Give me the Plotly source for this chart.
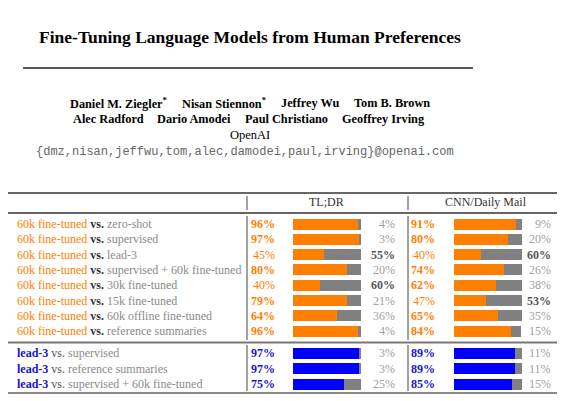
import plotly.graph_objects as go

# ---------------- data ----------------
title_text = "Fine-Tuning Language Models from Human Preferences"
authors_line1 = ["Daniel M. Ziegler<sup>*</sup>", "Nisan Stiennon<sup>*</sup>", "Jeffrey Wu", "Tom B. Brown"]
authors_line2 = ["Alec Radford", "Dario Amodei", "Paul Christiano", "Geoffrey Irving"]
affiliation = "OpenAI"
emails = "{dmz,nisan,jeffwu,tom,alec,damodei,paul,irving}@openai.com"

datasets = ["TL;DR", "CNN/Daily Mail"]

model_a = "60k fine-tuned"
opponents_a = ["zero-shot", "supervised", "lead-3", "supervised + 60k fine-tuned",
               "30k fine-tuned", "15k fine-tuned", "60k offline fine-tuned", "reference summaries"]
tldr_a = [96, 97, 45, 80, 40, 79, 64, 96]
tldr_a_opp = [4, 3, 55, 20, 60, 21, 36, 4]
cnn_a = [91, 80, 40, 74, 62, 47, 65, 84]
cnn_a_opp = [9, 20, 60, 26, 38, 53, 35, 15]

model_b = "lead-3"
opponents_b = ["supervised", "reference summaries", "supervised + 60k fine-tuned"]
tldr_b = [97, 97, 75]
tldr_b_opp = [3, 3, 25]
cnn_b = [89, 89, 85]
cnn_b_opp = [11, 11, 15]

# ---------------- styling / layout ----------------
W, H = 567, 401
SERIF = "Liberation Serif, Times New Roman, serif"
MONO = "Liberation Mono, Courier New, monospace"
ORANGE = "#ff8000"
BLUE = "#0000ff"
BLUE_TXT = "#1414d2"
GRAY_BAR = "#808080"
GRAY_TXT = "#8a8a8a"
GRAY_PCT = "#a0a0a0"
DARK_PCT = "#555555"

row_y_a = [224 + 15.3 * i for i in range(len(opponents_a))]
row_y_b = [353 + 15.5 * i for i in range(len(opponents_b))]

fig = go.Figure()

def add_bars(values, opp, ys, xaxis, color):
    fig.add_trace(go.Bar(x=values, y=ys, base=[0] * len(values), orientation="h",
                         marker=dict(color=color, line=dict(width=0)), width=11,
                         xaxis=xaxis, yaxis="y", showlegend=False, hoverinfo="skip"))
    fig.add_trace(go.Bar(x=opp, y=ys, base=values, orientation="h",
                         marker=dict(color=GRAY_BAR, line=dict(width=0)), width=11,
                         xaxis=xaxis, yaxis="y", showlegend=False, hoverinfo="skip"))

add_bars(tldr_a, tldr_a_opp, row_y_a, "x2", ORANGE)
add_bars(tldr_b, tldr_b_opp, row_y_b, "x2", BLUE)
add_bars(cnn_a, cnn_a_opp, row_y_a, "x3", ORANGE)
add_bars(cnn_b, cnn_b_opp, row_y_b, "x3", BLUE)

ann = []

def text(x, y, s, size=12, color="black", xanchor="left", family=SERIF):
    ann.append(dict(x=x, y=y, xref="x", yref="y", text=s, showarrow=False,
                    xanchor=xanchor, yanchor="middle",
                    font=dict(family=family, size=size, color=color)))

# header
text(250, 37, "<b>" + title_text + "</b>", size=17.5, xanchor="center")
name_x1 = [68, 180, 279, 352]
for x, n in zip(name_x1, authors_line1):
    text(x, 103, "<b>" + n + "</b>", size=12.3)
name_x2 = [71, 155, 243, 340]
for x, n in zip(name_x2, authors_line2):
    text(x, 119, "<b>" + n + "</b>", size=12.3)
text(250, 135, affiliation, size=12.5, xanchor="center")
text(245, 152, emails, size=12, color="#666666", xanchor="center", family=MONO)

# table header
text(326, 202, datasets[0], size=12, color="#333333", xanchor="center")
text(486, 202, datasets[1], size=12, color="#333333", xanchor="center")

def pct_pair(x_left, x_right, y, v, o, color):
    if v > o:
        text(x_left, y, "<b>%d%%</b>" % v, color=color, xanchor="right")
    else:
        text(x_left, y, "%d%%" % v, color=color, xanchor="right")
    if o > v:
        text(x_right, y, "<b>%d%%</b>" % o, color=DARK_PCT, xanchor="right")
    else:
        text(x_right, y, "%d%%" % o, color=GRAY_PCT, xanchor="right")

for i, opp in enumerate(opponents_a):
    y = row_y_a[i]
    text(15, y, "<span style='color:%s'>%s</span> <b><span style='color:#333333'>vs.</span></b> "
                "<span style='color:%s'>%s</span>" % (ORANGE, model_a, GRAY_TXT, opp))
    pct_pair(277, 397, y, tldr_a[i], tldr_a_opp[i], ORANGE)
    pct_pair(437, 553, y, cnn_a[i], cnn_a_opp[i], ORANGE)

for i, opp in enumerate(opponents_b):
    y = row_y_b[i]
    text(15, y, "<b><span style='color:%s'>%s</span></b> <span style='color:#555555'>vs.</span> "
                "<span style='color:%s'>%s</span>" % (BLUE_TXT, model_b, GRAY_TXT, opp))
    pct_pair(277, 397, y, tldr_b[i], tldr_b_opp[i], BLUE_TXT)
    pct_pair(437, 553, y, cnn_b[i], cnn_b_opp[i], BLUE_TXT)

shapes = []

def hline(y, x0, x1, color, w):
    shapes.append(dict(type="line", xref="x", yref="y", x0=x0, x1=x1, y0=y, y1=y,
                       line=dict(color=color, width=w)))

def vline(x, y0, y1):
    shapes.append(dict(type="line", xref="x", yref="y", x0=x, x1=x, y0=y0, y1=y1,
                       line=dict(color="#444444", width=1)))

hline(68, 23, 473, "#222222", 1.3)
hline(193, 8, 557, "#333333", 1.3)
hline(213, 8, 557, "#333333", 1.3)
hline(342.5, 8, 557, "#777777", 2)
hline(393, 8, 557, "#888888", 2)
for vx in (247, 408):
    vline(vx, 196, 210)
    vline(vx, 216, 340)
    vline(vx, 345, 391)

fig.update_layout(
    width=W, height=H, margin=dict(l=0, r=0, t=0, b=0),
    paper_bgcolor="white", plot_bgcolor="white",
    barmode="overlay", bargap=0,
    xaxis=dict(range=[0, W], domain=[0, 1], visible=False, fixedrange=True),
    yaxis=dict(range=[H, 0], domain=[0, 1], visible=False, fixedrange=True),
    xaxis2=dict(range=[0, 100], domain=[293 / W, 361 / W], anchor="y",
                visible=False, fixedrange=True),
    xaxis3=dict(range=[0, 100], domain=[454 / W, 522 / W], anchor="y",
                visible=False, fixedrange=True),
    annotations=ann, shapes=shapes, showlegend=False,
)

fig.write_html("out.html", config={"staticPlot": True},
               post_script="document.body.style.margin='0';document.body.style.padding='0';")
